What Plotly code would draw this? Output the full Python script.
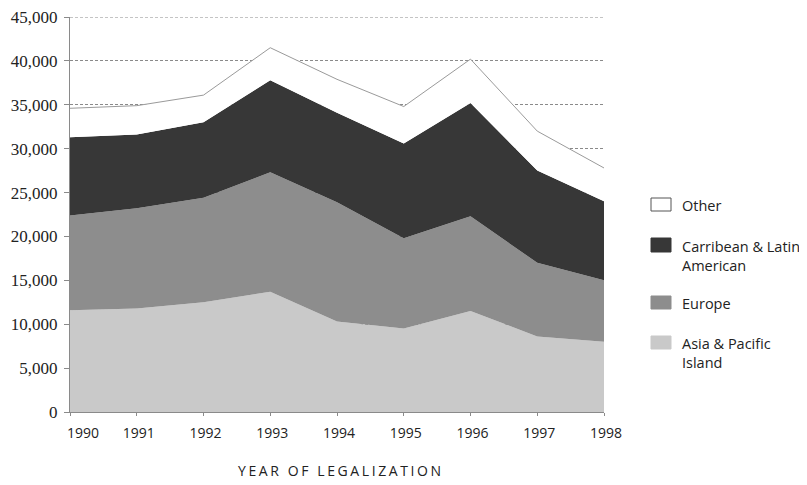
import plotly.graph_objects as go

years = [1990, 1991, 1992, 1993, 1994, 1995, 1996, 1997, 1998]
year_labels = ["\u00a0\u00a0\u00a0\u00a0\u00a0\u00a01990", "1991", "1992", "1993", "1994", "1995", "1996", "1997", "1998"]

asia_pacific = [11600, 11800, 12500, 13700, 10300, 9500, 11500, 8600, 8000]
europe = [10800, 11400, 11900, 13600, 13600, 10300, 10800, 8400, 7000]
caribbean_latin = [8900, 8400, 8600, 10500, 10200, 10800, 12900, 10500, 9000]
other = [3300, 3300, 3100, 3700, 3800, 4200, 5000, 4500, 3800]

series_names = ["Asia & Pacific Island", "Europe", "Carribean & Latin American", "Other"]
legend_labels = ["Asia & Pacific<br>Island", "Europe", "Carribean & Latin<br>American", "Other"]
y_ticks = [0, 5000, 10000, 15000, 20000, 25000, 30000, 35000, 40000, 45000]
x_title = "YEAR OF LEGALIZATION"

fills = ["#c9c9c9", "#8d8d8d", "#373737", "#ffffff"]
values = [asia_pacific, europe, caribbean_latin, other]

# page body has an 8px margin, so the figure is drawn 8px smaller and offset
OFF = 8
W, H = 807 - OFF, 485 - OFF
PL, PR, PT, PB = 70 - OFF, 604 - OFF, 17 - OFF, 412 - OFF  # plot area in figure px

fig = go.Figure()
for i, (name, vals) in enumerate(zip(series_names, values)):
    is_other = name == "Other"
    fig.add_trace(go.Scatter(
        x=years, y=vals, name=name, stackgroup="one", mode="lines",
        line=dict(color="#9a9a9a" if is_other else fills[i], width=1 if is_other else 0),
        fillcolor=fills[i], showlegend=False,
    ))

# top gridline at the edge of the range
fig.add_shape(type="line", xref="x", yref="y", x0=years[0], x1=years[-1],
              y0=y_ticks[-1], y1=y_ticks[-1],
              line=dict(color="#8a8a8a", width=1, dash="3px,2px"))

# custom legend (top to bottom: Other, Carribean, Europe, Asia) - page px
legend_pos = {  # swatch top, swatch bottom, text center y
    "Other": (198, 211, 205),
    "Carribean & Latin American": (238, 252, 256),
    "Europe": (296, 309, 303),
    "Asia & Pacific Island": (336, 349, 353),
}
pw = float(PR - PL)
ph = float(PB - PT)
for i, name in enumerate(series_names):
    top, bot, ty = legend_pos[name]
    fig.add_shape(type="rect", xref="paper", yref="paper",
                  x0=(651 - 70) / pw, x1=(671 - 70) / pw,
                  y0=(412 - bot) / ph, y1=(412 - top) / ph,
                  fillcolor=fills[i],
                  line=dict(color="#555555" if name == "Other" else fills[i], width=1))
    fig.add_annotation(xref="paper", yref="paper", x=(680 - 70) / pw,
                       y=(412 - ty) / ph, text=legend_labels[i], showarrow=False,
                       xanchor="left", yanchor="middle", align="left",
                       font=dict(family="Open Sans", size=14.5, color="#222222"))

# x-axis title as annotation (page y ~471, centered on plot)
fig.add_annotation(xref="paper", yref="paper", x=(341 - 70) / pw, y=(412 - 471) / ph,
                   text='<span style="letter-spacing:2.6px">' + x_title + '</span>',
                   showarrow=False, xanchor="center", yanchor="middle",
                   font=dict(family="Open Sans", size=14, color="#222222"))

fig.update_layout(
    width=W, height=H,
    margin=dict(l=PL, r=W - PR, t=PT, b=H - PB, autoexpand=False),
    paper_bgcolor="white", plot_bgcolor="white",
    showlegend=False,
    xaxis=dict(
        range=[1990, 1998], tickvals=years, ticktext=year_labels,
        showgrid=False, zeroline=False, automargin=False,
        showline=True, linecolor="#8a8a8a", linewidth=1,
        ticks="outside", ticklen=3, tickcolor="#8a8a8a",
        ticklabelstandoff=5, ticklabelshift=2, ticklabeloverflow="allow",
        tickfont=dict(family="Open Sans", size=14, color="#222222"),
    ),
    yaxis=dict(
        range=[0, 45000], tickvals=y_ticks, tickformat=",d",
        showgrid=True, gridcolor="#8a8a8a", griddash="3px,2px", gridwidth=1,
        zeroline=False, automargin=False,
        showline=True, linecolor="#8a8a8a", linewidth=1,
        ticks="outside", ticklen=5, tickcolor="#8a8a8a",
        ticklabelstandoff=3, ticklabeloverflow="allow",
        tickfont=dict(family="Liberation Serif", size=17, color="#222222"),
    ),
)

fig.write_html("out.html")
